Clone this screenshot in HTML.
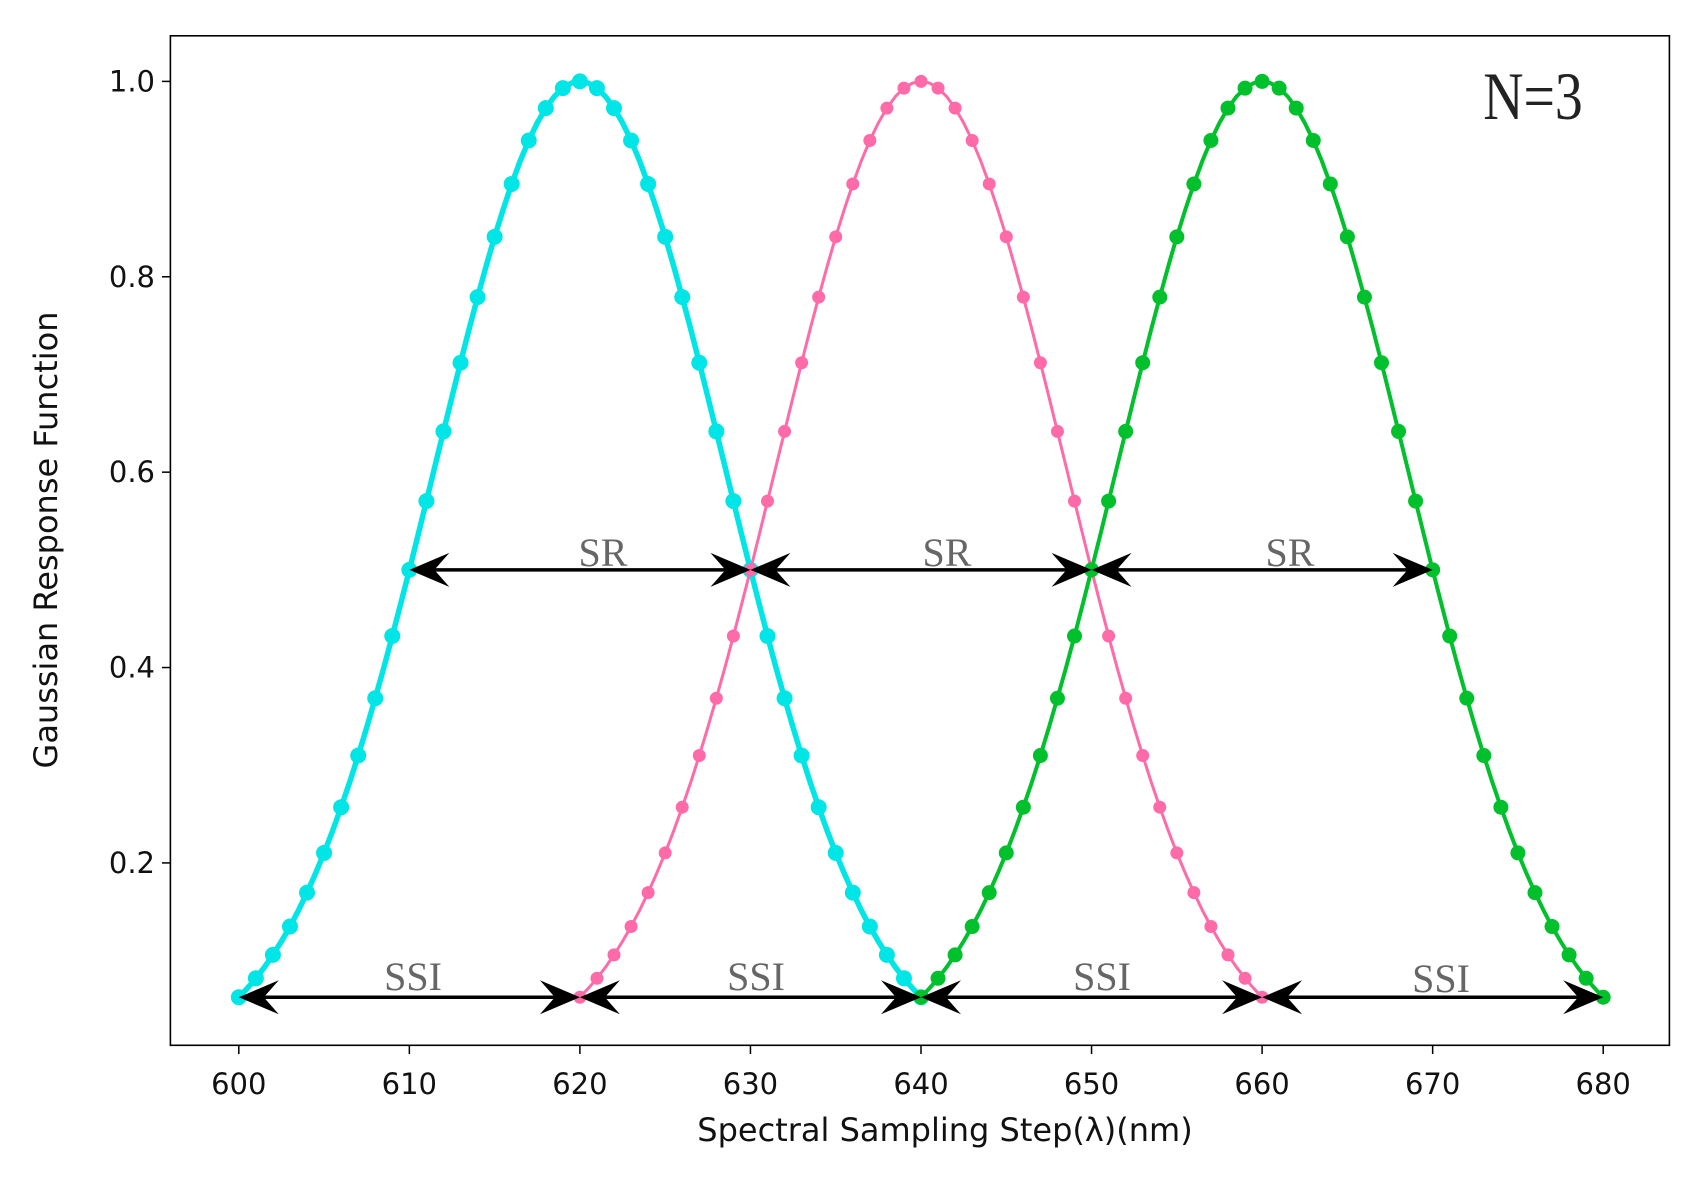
<!DOCTYPE html>
<html><head><meta charset="utf-8"><style>
html,body{margin:0;padding:0;background:#fff;}
svg{display:block;}
</style></head><body>
<svg id="s" width="1704" height="1180" viewBox="0 0 1704 1180" xmlns="http://www.w3.org/2000/svg" font-family="'DejaVu Sans','Liberation Sans',sans-serif">
<rect x="0" y="0" width="1704" height="1180" fill="#fff"/>
<g id="curves"></g>
<g id="arrows"></g>
<rect x="170.4" y="35.8" width="1499" height="1009.5" fill="none" stroke="#000" stroke-width="1.6"/>
<g font-size="29" fill="#111" text-anchor="middle" id="xt"></g>
<g font-size="29" fill="#111" text-anchor="end" id="yt"></g>
<text x="945" y="1141" font-size="32" text-anchor="middle" fill="#111">Spectral Sampling Step(λ)(nm)</text>
<text transform="translate(57,540) rotate(-90)" font-size="32" text-anchor="middle" fill="#111">Gaussian Response Function</text>
<text x="1533" y="119" font-size="68" font-family="'Liberation Serif',serif" text-anchor="middle" fill="#222" transform="translate(1533,0) scale(0.82,1) translate(-1533,0)">N=3</text>
<g font-family="'Liberation Serif',serif" font-size="40" fill="#666" text-anchor="middle" id="lbl">
<text x="603" y="566">SR</text><text x="947" y="566">SR</text><text x="1290" y="566">SR</text>
<text x="413" y="990">SSI</text><text x="756" y="990">SSI</text><text x="1102" y="990">SSI</text><text x="1441" y="992">SSI</text>
</g>
</svg>
<script>
var NS="http://www.w3.org/2000/svg";
function X(v){return 238.8+(v-600)*17.055;}
function Y(v){return 81.4+(1-v)*976.9;}
function el(t,a,p){var e=document.createElementNS(NS,t);for(var k in a)e.setAttribute(k,a[k]);p.appendChild(e);return e;}
var cg=document.getElementById("curves");
var series=[[620,"#00e5e5",5.5,8],[640,"#ff6aa8",3,6.5],[660,"#00c02c",4,7.5]];
series.forEach(function(s){
  var c=s[0],pts=[];
  for(var x=c-20;x<=c+20;x+=0.5){var v=Math.exp(-Math.LN2*Math.pow((x-c)/10,2));pts.push(X(x).toFixed(1)+","+Y(v).toFixed(1));}
  el("polyline",{points:pts.join(" "),fill:"none",stroke:s[1],"stroke-width":s[2]},cg);
  for(var x=c-20;x<=c+20;x++){var v=Math.exp(-Math.LN2*Math.pow((x-c)/10,2));el("circle",{cx:X(x),cy:Y(v),r:s[3],fill:s[1]},cg);}
});
var ag=document.getElementById("arrows");
function head(x,y,dir){
  var L=40,W=17,n=15;
  var p=[[x,y],[x-dir*L,y-W],[x-dir*(L-n),y],[x-dir*L,y+W]];
  el("polygon",{points:p.map(function(a){return a.join(",")}).join(" "),fill:"#000"},ag);
}
function arrow(x1,x2,y){
  el("line",{x1:x1+10,y1:y,x2:x2-10,y2:y,stroke:"#000","stroke-width":3.5},ag);
  head(x1,y,-1);head(x2,y,1);
}
var ys=Y(0.5);
arrow(X(610),X(630),ys);arrow(X(630),X(650),ys);arrow(X(650),X(670),ys);
var yb=Y(0.0625);
arrow(X(600),X(620),yb);arrow(X(620),X(640),yb);arrow(X(640),X(660),yb);arrow(X(660),X(680),yb);
var xt=document.getElementById("xt");
for(var v=600;v<=680;v+=10){el("line",{x1:X(v),y1:1045.3,x2:X(v),y2:1054,stroke:"#000","stroke-width":1.5},xt);var t=el("text",{x:X(v),y:1094},xt);t.textContent=v;}
var yt=document.getElementById("yt");
[0.2,0.4,0.6,0.8,1.0].forEach(function(v){el("line",{x1:162,y1:Y(v),x2:170.4,y2:Y(v),stroke:"#000","stroke-width":1.5},yt);var t=el("text",{x:155,y:Y(v)+10},yt);t.textContent=v.toFixed(1);});
</script>
</body></html>
